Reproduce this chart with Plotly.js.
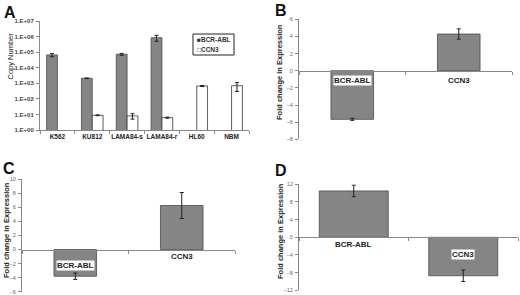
<!DOCTYPE html>
<html><head><meta charset="utf-8">
<script src="https://cdn.plot.ly/plotly-3.0.1.min.js"></script>
<style>html,body{margin:0;padding:0;background:#fff}#chart{width:520px;height:295px}</style>
</head><body><div id="chart"></div>
<script>
// ---- data ----
const cellLines = ['K562','KU812','LAMA84-s','LAMA84-r','HL60','NBM'];
const bcrAblCopies = [66000, 2100, 73000, 850000, null, null];
const bcrAblCopiesErr = [15000, 100, 10000, 350000, null, null];
const ccn3Copies = [null, 8.8, 8, 6.2, 670, 700];
const ccn3CopiesErr = [null, 0.5, 3, 0.5, 50, 400];
const logTickVals = [1, 10, 100, 1000, 10000, 100000, 1000000, 10000000];
const logTickText = ['1.E+00','1.E+01','1.E+02','1.E+03','1.E+04','1.E+05','1.E+06','1.E+07'];

const genes = ['BCR-ABL','CCN3'];
const foldB = [-5.67, 4.28];
const foldBErr = [0.12, 0.6];
const foldC = [-3.8, 6.27];
const foldCErr = [0.45, 1.85];
const foldD = [10.5, -8.7];
const foldDErr = [1.3, 1.3];

// ---- layout helpers ----
const W = 520, H = 295;
const px = (a, b) => [a / W, b / W];
const py = (top, bottom) => [1 - bottom / H, 1 - top / H];
const FONT = 'Liberation Sans, Arial, sans-serif';
const GREY = '#858585';
const EDGE = '#4a4a4a';

const domA = {x: px(40, 249), y: py(21, 130)};
const domB = {x: px(299, 512), y: py(19.3, 139.3)};
const domC = {x: px(22, 235), y: py(179.3, 291.7)};
const domD = {x: px(299, 518), y: py(184.3, 290.3)};

const errStyle = arr => ({type: 'data', array: arr, visible: true, color: '#222', thickness: 1, width: 2});

const traces = [
  {type: 'bar', x: cellLines, y: bcrAblCopies, name: 'BCR-ABL', xaxis: 'x', yaxis: 'y',
   marker: {color: GREY, line: {color: EDGE, width: 0.8}}, error_y: errStyle(bcrAblCopiesErr), showlegend: false},
  {type: 'bar', x: cellLines, y: ccn3Copies, name: 'CCN3', xaxis: 'x', yaxis: 'y',
   marker: {color: '#ffffff', line: {color: '#333', width: 0.8}}, error_y: errStyle(ccn3CopiesErr), showlegend: false},
  {type: 'bar', x: genes, y: foldB, xaxis: 'x2', yaxis: 'y2', width: 0.4,
   marker: {color: GREY, line: {color: EDGE, width: 0.8}}, error_y: errStyle(foldBErr), showlegend: false},
  {type: 'bar', x: genes, y: foldC, xaxis: 'x3', yaxis: 'y3', width: 0.4,
   marker: {color: GREY, line: {color: EDGE, width: 0.8}}, error_y: errStyle(foldCErr), showlegend: false},
  {type: 'bar', x: genes, y: foldD, xaxis: 'x4', yaxis: 'y4', width: 0.63,
   marker: {color: GREY, line: {color: EDGE, width: 0.8}}, error_y: errStyle(foldDErr), showlegend: false}
];

const tickFont = {family: FONT, size: 5.5, color: '#666'};

function foldYAxis(dom, range, dtick) {
  return {domain: dom.y, range: range, dtick: dtick, tick0: 0, showgrid: false, zeroline: false,
    showline: true, linecolor: '#888', linewidth: 1, ticks: 'outside', ticklen: 3, tickcolor: '#888',
    ticklabelstandoff: 1, tickfont: tickFont, fixedrange: true};
}
function foldXAxis(dom, ydom, yrange) {
  const pos = ydom[0] + (ydom[1] - ydom[0]) * (0 - yrange[0]) / (yrange[1] - yrange[0]);
  return {domain: dom.x, anchor: 'free', position: pos, showgrid: false, zeroline: false,
    showline: true, linecolor: '#888', linewidth: 1, ticks: 'outside', ticklen: 3, tickcolor: '#888',
    tickson: 'boundaries', showticklabels: false, fixedrange: true};
}

const rB = [-8, 6], rC = [-6, 10], rD = [-12, 12];

const annotations = [];
function letter(t, x, y) {
  annotations.push({text: '<b>' + t + '</b>', xref: 'paper', yref: 'paper', x: x / W, y: 1 - y / H,
    xanchor: 'left', yanchor: 'middle', showarrow: false, font: {family: FONT, size: 16, color: '#111'}});
}
letter('A', 2, 13); letter('B', 273, 10.5); letter('C', 1, 168.5); letter('D', 273, 170);

function yTitle(text, x, y, bold) {
  annotations.push({text: bold ? '<b>' + text + '</b>' : text, xref: 'paper', yref: 'paper', x: x / W, y: 1 - y / H,
    xanchor: 'center', yanchor: 'middle', textangle: -90, showarrow: false,
    font: {family: FONT, size: 7.5, color: '#222'}});
}
yTitle('Copy Number', 9.5, 56, false);
yTitle('Fold change in Expression', 279, 72, true);
yTitle('Fold change in Expression', 6, 230, true);
yTitle('Fold change in Expression', 280, 231, true);

function geneLabels(xa, ya, shifts) {
  genes.forEach((g, i) => {
    annotations.push({text: '<b>' + g + '</b>', xref: xa, yref: ya, x: g, y: 0, yanchor: 'middle',
      yshift: shifts[i], showarrow: false, bgcolor: '#ffffff', borderpad: 0,
      font: {family: FONT, size: 8, color: '#222'}});
  });
}
geneLabels('x2', 'y2', [-9.5, -9.5]);
geneLabels('x3', 'y3', [-16, -7]);
geneLabels('x4', 'y4', [-7.5, -17]);

// legend of panel A
annotations.push({text: '<b>\u25A0</b><b>BCR-ABL</b>', xref: 'paper', yref: 'paper', x: 194.5 / W, y: 1 - 39.5 / H,
  xanchor: 'left', yanchor: 'middle', showarrow: false, font: {family: FONT, size: 6.5, color: '#333'}});
annotations.push({text: '\u25A1<b>CCN3</b>', xref: 'paper', yref: 'paper', x: 194.5 / W, y: 1 - 49.5 / H,
  xanchor: 'left', yanchor: 'middle', showarrow: false, font: {family: FONT, size: 6.5, color: '#333'}});

const layout = {
  width: W, height: H, margin: {l: 0, r: 0, t: 0, b: 0}, paper_bgcolor: '#fff', plot_bgcolor: 'rgba(0,0,0,0)',
  font: {family: FONT}, barmode: 'group', bargap: 0.38, bargroupgap: 0, showlegend: false,
  xaxis: {domain: domA.x, anchor: 'y', showgrid: false, zeroline: false, showline: true, linecolor: '#888',
    ticks: 'outside', ticklen: 3, tickcolor: '#888', tickson: 'boundaries', tickangle: 0,
    tickfont: {family: FONT, size: 6.5, color: '#222', weight: 'bold'}, fixedrange: true},
  yaxis: {domain: domA.y, anchor: 'x', type: 'log', range: [0, 7], tickvals: logTickVals, ticktext: logTickText,
    showgrid: false, zeroline: false, showline: true, linecolor: '#888', ticks: 'outside', ticklen: 3, tickcolor: '#888',
    ticklabelstandoff: 1, tickfont: {family: FONT, size: 6, color: '#444', weight: 'bold'}, fixedrange: true},
  xaxis2: foldXAxis(domB, domB.y, rB), yaxis2: Object.assign(foldYAxis(domB, rB, 2), {anchor: 'x2'}),
  xaxis3: foldXAxis(domC, domC.y, rC), yaxis3: Object.assign(foldYAxis(domC, rC, 2), {anchor: 'x3'}),
  xaxis4: foldXAxis(domD, domD.y, rD), yaxis4: Object.assign(foldYAxis(domD, rD, 4), {anchor: 'x4'}),
  annotations: annotations,
  shapes: [{type: 'rect', xref: 'paper', yref: 'paper', x0: 193 / W, x1: 234 / W, y0: 1 - 55 / H, y1: 1 - 34 / H,
    line: {color: '#222', width: 1}, fillcolor: 'rgba(0,0,0,0)', layer: 'below'}]
};

Plotly.newPlot('chart', traces, layout, {staticPlot: true, displayModeBar: false});
</script></body></html>
